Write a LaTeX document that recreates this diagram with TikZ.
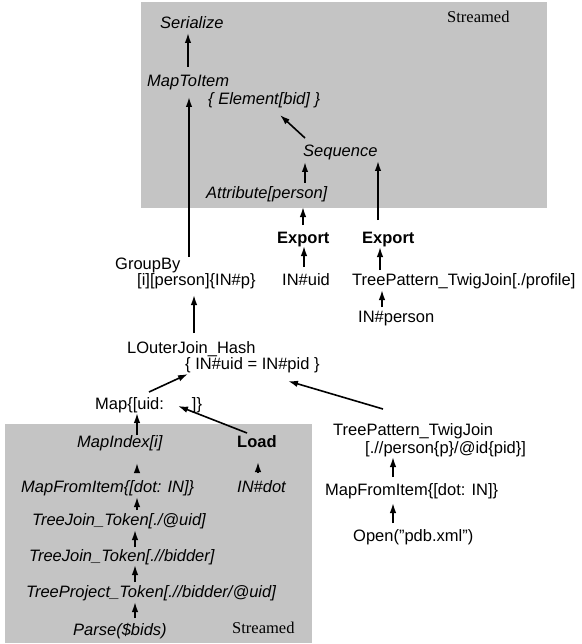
\documentclass[tikz,border=0pt]{standalone}
\usepackage{fontspec}
\setmainfont{Liberation Sans}
\newfontfamily\timesfont{Liberation Serif}
\usetikzlibrary{arrows.meta,calc}
\definecolor{boxgray}{RGB}{196,196,196}
\tikzset{
  lbl/.style={anchor=base west,inner sep=0pt,font=\fontsize{16.5}{19}\selectfont},
  itl/.style={lbl,font=\fontsize{16.5}{19}\selectfont\itshape},
  bld/.style={lbl,font=\fontsize{16.5}{19}\selectfont\bfseries},
  srf/.style={lbl,font=\fontsize{16.5}{19}\selectfont\timesfont},
  arr/.style={line width=1.6pt,-{Latex[length=10pt,width=6.5pt]}},
  region/.style={fill=boxgray,draw=none}
}
\begin{document}
\begin{tikzpicture}[x=1pt,y=-1pt]
\useasboundingbox (0,0) rectangle (581,644);
\fill[region] (141,2) rectangle (547,208);
\fill[region] (5,424) rectangle (312,643);
% nodes
\node[itl] (ser) at (160,29) {Serialize};
\node[srf] (strA) at (447,22.5) {Streamed};
\node[itl] (mti) at (147,87) {MapToItem};
\node[itl] (mtib) at (208,105) {\{ Element[bid] \}};
\node[itl] (seq) at (303,157) {Sequence};
\node[itl] (attr) at (206,199) {Attribute[person]};
\node[bld] (exp1) at (277,243) {Export};
\node[bld] (exp2) at (362,243) {Export};
\node[lbl] (gb) at (115,269) {GroupBy};
\node[lbl] (gbb) at (137,285) {[i][person]\{IN\#p\}};
\node[lbl] (inuid) at (282,285) {IN\#uid};
\node[lbl] (tpt) at (352,285) {TreePattern\_TwigJoin[./profile]};
\node[lbl] (inp) at (358,322) {IN\#person};
\node[lbl] (loj) at (127,353) {LOuterJoin\_Hash};
\node[lbl] (lojb) at (185,369) {\{ IN\#uid = IN\#pid \}};
\node[lbl] (map) at (95,409) {Map\{[uid:\hspace{28pt}]\}};
\node[itl] (mi) at (77,447) {MapIndex[i]};
\node[bld] (load) at (237,447) {Load};
\node[itl] (mfi) at (21,492) {MapFromItem\{[dot: IN]\}};
\node[itl] (indot) at (237,492) {IN\#dot};
\node[itl] (tj1) at (32,525) {TreeJoin\_Token[./@uid]};
\node[itl] (tj2) at (29,561) {TreeJoin\_Token[.//bidder]};
\node[itl] (tpj) at (26,597) {TreeProject\_Token[.//bidder/@uid]};
\node[itl] (parse) at (73,635) {Parse(\$bids)};
\node[srf] (strB) at (232,633.5) {Streamed};
\node[lbl] (tptw) at (333,435) {TreePattern\_TwigJoin};
\node[lbl] (tptwb) at (365,453) {[.//person\{p\}/@id\{pid\}]};
\node[lbl] (mfi2) at (325,495) {MapFromItem\{[dot: IN]\}};
\node[lbl] (open) at (353,541) {Open("pdb.xml")};
% connectors
\draw[arr] ($(mti.base west)+(41,-20)$) -- ($(ser.base west)+(28,4)$);
\draw[arr] ($(gb.base west)+(74,-12)$) -- ($(mti.base west)+(42,10)$);
\draw[arr] ($(seq.base west)+(2,-19)$) -- ($(mtib.base west)+(72,10)$);
\draw[arr] ($(attr.base west)+(99,-16)$) -- ($(seq.base west)+(2,5)$);
\draw[arr] ($(exp1.base west)+(26,-18)$) -- ($(attr.base west)+(97,8)$);
\draw[arr] ($(exp2.base west)+(16,-23)$) -- ($(seq.base west)+(75,4)$);
\draw[arr] ($(inuid.base west)+(22,-18)$) -- ($(exp1.base west)+(27,3)$);
\draw[arr] ($(tpt.base west)+(28,-15)$) -- ($(exp2.base west)+(18,4)$);
\draw[arr] ($(inp.base west)+(24,-15)$) -- ($(tpt.base west)+(30,5)$);
\draw[arr] ($(loj.base west)+(67,-20)$) -- ($(gbb.base west)+(57,10)$);
\draw[arr] ($(map.base west)+(54,-17)$) -- ($(lojb.base west)+(3,5)$);
\draw[arr] ($(tptw.base west)+(50,-26)$) -- ($(lojb.base west)+(103,12)$);
\draw[arr] ($(load.base west)+(10,-14)$) -- ($(map.base west)+(83,-3)$);
\draw[arr] ($(mi.base west)+(60,-12)$) -- ($(map.base west)+(42,4)$);
\draw[arr] ($(mfi.base west)+(116,-19)$) -- ($(mi.base west)+(60,16)$);
\draw[arr] ($(indot.base west)+(21,-19)$) -- ($(load.base west)+(21,15)$);
\draw[arr] ($(tj1.base west)+(105,-15)$) -- ($(mfi.base west)+(116,5)$);
\draw[arr] ($(tj2.base west)+(106,-14)$) -- ($(tj1.base west)+(103,5)$);
\draw[arr] ($(tpj.base west)+(109,-15)$) -- ($(tj2.base west)+(106,4)$);
\draw[arr] ($(parse.base west)+(62,-17)$) -- ($(tpj.base west)+(109,5)$);
\draw[arr] ($(mfi2.base west)+(68,-18)$) -- ($(tptwb.base west)+(28,4)$);
\draw[arr] ($(open.base west)+(40,-18)$) -- ($(mfi2.base west)+(68,8)$);
\end{tikzpicture}
\end{document}
